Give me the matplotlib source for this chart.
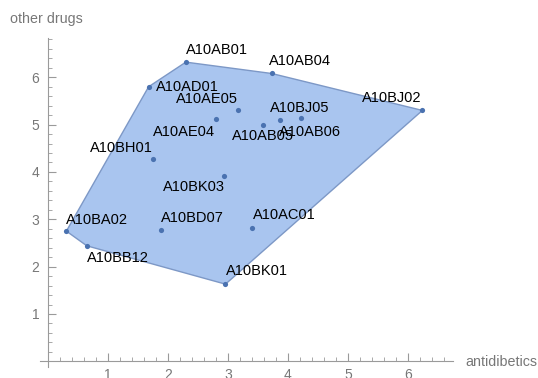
import matplotlib
matplotlib.use("Agg")
import matplotlib.pyplot as plt
from matplotlib.patches import Polygon

plt.rcParams['font.family'] = ['Liberation Sans', 'DejaVu Sans']

names = ["A10AB01", "A10AD01", "A10AB04", "A10BJ02", "A10AE05", "A10AE04",
         "A10AB05", "A10AB06", "A10BJ05", "A10BH01", "A10BK03", "A10BA02",
         "A10BB12", "A10BD07", "A10AC01", "A10BK01"]
antidiabetics = [2.30, 1.68, 3.73, 6.24, 3.17, 2.81, 3.58, 3.87, 4.22, 1.76,
                 2.94, 0.31, 0.65, 1.88, 3.41, 2.96]
other_drugs = [6.32, 5.80, 6.08, 5.30, 5.30, 5.12, 4.99, 5.09, 5.15, 4.27,
               3.91, 2.75, 2.44, 2.78, 2.82, 1.63]
hull_order = ["A10BA02", "A10AD01", "A10AB01", "A10AB04", "A10BJ02", "A10BK01", "A10BB12"]
# label placement: (ha, dx_px, dy_px)
placement = {
    "A10AB01": ("left", 0, 12), "A10AD01": ("left", 7, 0),
    "A10AB04": ("left", -3, 12), "A10BJ02": ("right", -1, 12),
    "A10AE05": ("right", 0, 11), "A10AE04": ("right", -1, -13),
    "A10AB05": ("center", 0, -11), "A10AB06": ("left", -1, -12),
    "A10BJ05": ("center", -1, 10), "A10BH01": ("right", -1, 11),
    "A10BK03": ("right", 1, -11), "A10BA02": ("left", 0, 11),
    "A10BB12": ("left", 0, -12), "A10BD07": ("left", 0, 12),
    "A10AC01": ("left", 0, 13), "A10BK01": ("left", 0, 13),
}

fig = plt.figure(figsize=(5.38, 3.78), dpi=100)
ax = fig.add_axes([0.0743, 0.0291, 0.842 - 0.0743, 0.8995 - 0.0291])
ax.set_xlim(-0.13, 6.75)
ax.set_ylim(-0.12, 6.83)

idx = {n: i for i, n in enumerate(names)}
hull = [(antidiabetics[idx[n]], other_drugs[idx[n]]) for n in hull_order]
ax.add_patch(Polygon(hull, closed=True, facecolor="#a9c5ef", edgecolor="#7d98c6",
                     linewidth=1.0, zorder=1))
ax.scatter(antidiabetics, other_drugs, s=14, color="#4a72b0", zorder=3, linewidths=0)

for n, x, y in zip(names, antidiabetics, other_drugs):
    ha, dx, dy = placement[n]
    ax.annotate(n, (x, y), xytext=(dx, dy), textcoords="offset pixels",
                ha=ha, va="center", fontsize=10.5, color="black", zorder=4)

gray = "#9a9a9a"
for s in ["top", "right"]:
    ax.spines[s].set_visible(False)
ax.spines["left"].set_position(("data", 0))
ax.spines["bottom"].set_position(("data", 0))
ax.spines["left"].set_color(gray)
ax.spines["bottom"].set_color(gray)
ax.set_xticks(range(1, 7))
ax.set_yticks(range(1, 7))
ax.set_xticks([i * 0.2 for i in range(1, 34) if i % 5 != 0], minor=True)
ax.set_yticks([i * 0.2 for i in range(1, 35) if i % 5 != 0], minor=True)
ax.tick_params(which="major", direction="in", length=6, width=0.8, color=gray,
               labelcolor="#777777", labelsize=10)
ax.tick_params(which="minor", direction="in", length=3, width=0.6, color=gray)
ax.tick_params(axis="y", pad=6)
ax.tick_params(axis="x", pad=5)

fig.text(10 / 538, 1 - 19 / 378, "other drugs", ha="left", va="center",
         fontsize=10.3, color="#777777")
fig.text(465 / 538, 1 - 362 / 378, "antidibetics", ha="left", va="center",
         fontsize=10.3, color="#777777")

fig.savefig("out.png", dpi=100)
